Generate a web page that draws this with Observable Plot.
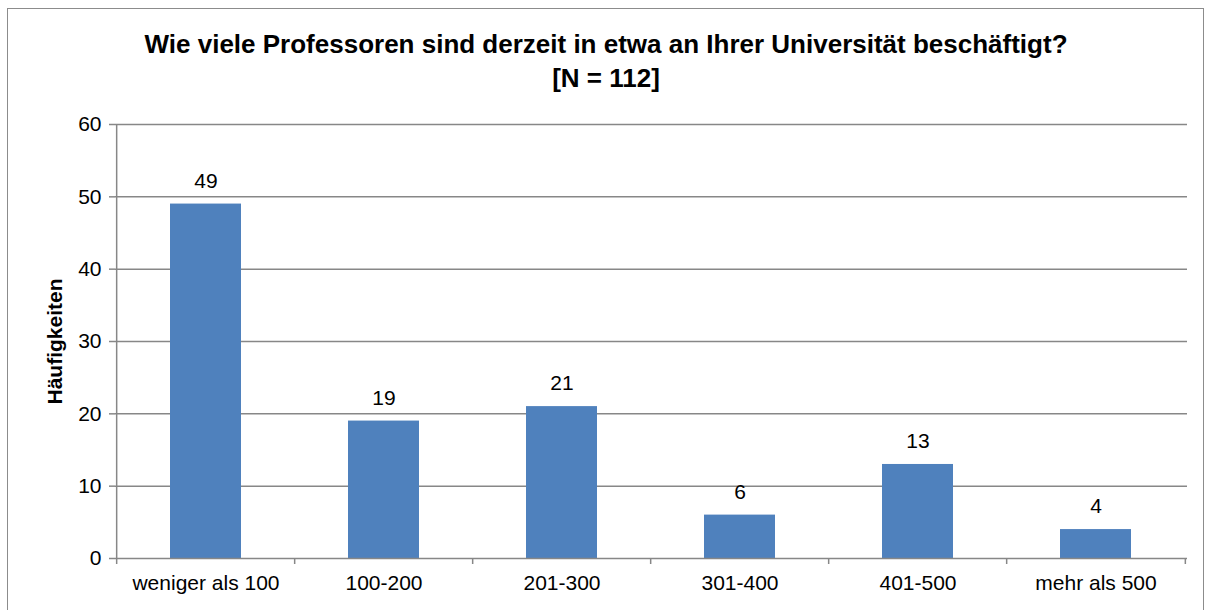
<!DOCTYPE html>
<html><head><meta charset="utf-8">
<script src="https://cdn.jsdelivr.net/npm/d3@7"></script>
<script src="https://cdn.jsdelivr.net/npm/@observablehq/plot@0.6"></script>
<style>
html,body{margin:0;padding:0;background:#fff;overflow:hidden;}
#wrap{position:relative;width:1212px;height:610px;font-family:"Liberation Sans",Arial,sans-serif;}
#frame{position:absolute;left:7px;top:8px;width:1197px;height:640px;border:1.5px solid #8c8c8c;box-sizing:border-box;}
#title{position:absolute;left:0;top:27px;width:1212px;text-align:center;font-weight:bold;font-size:26px;line-height:34px;color:#000;}
#chart{position:absolute;left:0;top:0;}
</style></head>
<body><div id="wrap"><div id="frame"></div><div id="chart"></div>
<div id="title">Wie viele Professoren sind derzeit in etwa an Ihrer Universität beschäftigt?<br>[N = 112]</div></div>
<script>
const categories = ["weniger als 100","100-200","201-300","301-400","401-500","mehr als 500"];
const values = [49,19,21,6,13,4];
const yTicks = [0,10,20,30,40,50,60];
const yLabel = "Häufigkeiten";

const data = categories.map((c,i)=>({cat:c, v:values[i]}));
const W=1212, H=610, mL=115, mR=25, mT=124, mB=52;
const step = (W-mL-mR)/categories.length;
const grey="#878787";
const bounds = categories.map(c=>({cat:c, dx:-step/2})).concat([{cat:categories[categories.length-1], dx:step/2}]);

const plot = Plot.plot({
  width:W, height:H, marginLeft:mL, marginRight:mR, marginTop:mT, marginBottom:mB,
  style:{fontFamily:'"Liberation Sans",Arial,sans-serif', fontSize:"21px", color:"#000", background:"transparent"},
  x:{domain:categories, paddingInner:0.6, paddingOuter:0.3, label:null},
  y:{domain:[0,60], label:null},
  marks:[
    Plot.ruleY(yTicks.filter(d=>d>0), {stroke:grey, strokeWidth:1.5}),
    Plot.barY(data, {x:"cat", y:"v", fill:"#4F81BD"}),
    Plot.ruleY([0], {stroke:grey, strokeWidth:1.5}),
    Plot.ruleX([categories[0]], {x:d=>d, dx:-step/2, y1:0, y2:60, stroke:grey, strokeWidth:1.5}),
    Plot.axisY({ticks:yTicks, tickSize:6, tickPadding:8, stroke:grey, strokeWidth:1.5, fontSize:21, fill:"#000", label:null}),
    Plot.axisX({tickSize:0, tickPadding:17, fontSize:21, fill:"#000", label:null}),
    ...bounds.map(b=>Plot.ruleX([b], {x:"cat", dx:b.dx, y1:0, y2:0, insetBottom:-6, stroke:grey, strokeWidth:1.5})),
    Plot.text(data, {x:"cat", y:"v", text:d=>String(d.v), dy:-23, fontSize:21, fill:"#000"}),
    Plot.text([yLabel], {frameAnchor:"left", textAnchor:"middle", dx:-60, rotate:-90, fontWeight:"bold", fontSize:21, fill:"#000", text:d=>d})
  ]
});
document.getElementById("chart").appendChild(plot);
</script></body></html>
